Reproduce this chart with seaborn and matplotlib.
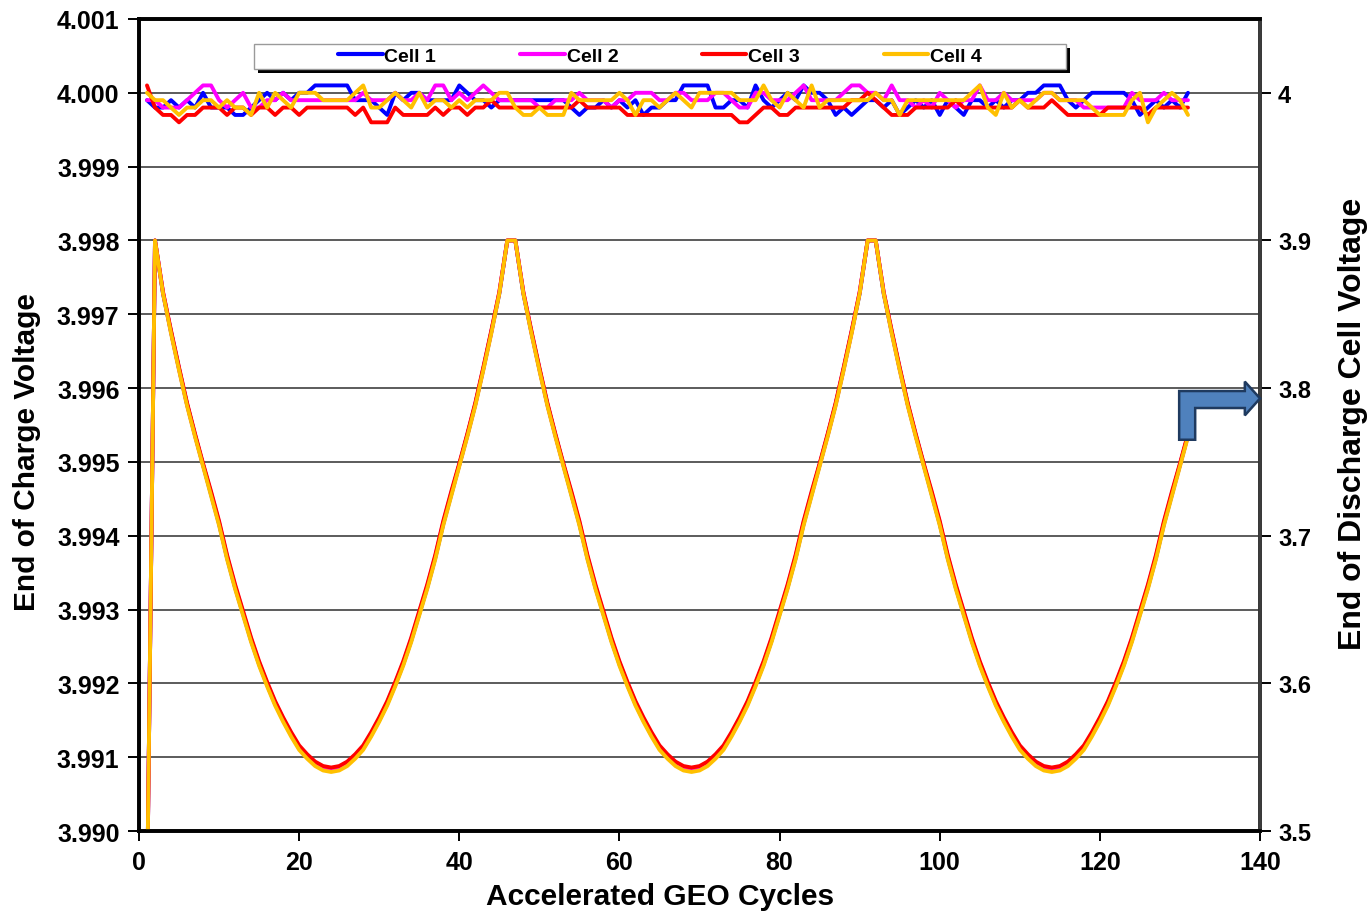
import numpy as np
import pandas as pd
import matplotlib
matplotlib.use("Agg")
import matplotlib.pyplot as plt
from matplotlib.lines import Line2D
from matplotlib.patches import Polygon, Rectangle
import seaborn as sns

# ---------------------------------------------------------------- data
cycles = list(range(1, 132))
cell_names = ["Cell 1", "Cell 2", "Cell 3", "Cell 4"]
cell_colors = ["#0000FF", "#FF00FF", "#FF0000", "#FFC000"]

# End-of-charge voltage per cycle (left axis)
cell1_eoc = [
    3.9999, 3.9998, 3.9998, 3.9999, 3.9998, 3.9999, 3.9998, 4.0000, 3.9998, 3.9998,
    3.9998, 3.9997, 3.9997, 3.9998, 3.9999, 4.0000, 3.9999, 4.0000, 3.9999, 4.0000,
    4.0000, 4.0001, 4.0001, 4.0001, 4.0001, 4.0001, 3.9999, 3.9999, 3.9999, 3.9998,
    3.9997, 4.0000, 3.9999, 4.0000, 4.0000, 3.9999, 3.9999, 3.9999, 3.9999, 4.0001,
    4.0000, 3.9999, 3.9999, 3.9998, 3.9999, 3.9999, 3.9999, 3.9999, 3.9999, 3.9999,
    3.9999, 3.9999, 3.9999, 3.9998, 3.9997, 3.9998, 3.9998, 3.9999, 3.9998, 3.9999,
    3.9998, 3.9999, 3.9997, 3.9998, 3.9998, 3.9999, 3.9999, 4.0001, 4.0001, 4.0001,
    4.0001, 3.9998, 3.9998, 3.9999, 3.9999, 3.9998, 4.0001, 3.9999, 3.9998, 3.9999,
    4.0000, 3.9999, 4.0001, 4.0000, 4.0000, 3.9999, 3.9997, 3.9998, 3.9997, 3.9998,
    3.9999, 3.9999, 3.9998, 3.9999, 3.9997, 3.9998, 3.9999, 3.9998, 3.9999, 3.9997,
    3.9999, 3.9998, 3.9997, 3.9999, 3.9999, 3.9998, 3.9999, 3.9998, 3.9999, 3.9999,
    4.0000, 4.0000, 4.0001, 4.0001, 4.0001, 3.9999, 3.9998, 3.9999, 4.0000, 4.0000,
    4.0000, 4.0000, 4.0000, 3.9999, 3.9997, 3.9998, 3.9999, 3.9998, 3.9999, 3.9998,
    4.0000,
]
cell2_eoc = [
    3.9999, 3.9999, 3.9998, 3.9998, 3.9998, 3.9999, 4.0000, 4.0001, 4.0001, 3.9999,
    3.9998, 3.9999, 4.0000, 3.9998, 3.9998, 3.9999, 3.9999, 4.0000, 3.9999, 3.9999,
    3.9999, 3.9999, 3.9999, 3.9999, 3.9999, 3.9999, 3.9999, 4.0000, 3.9999, 3.9999,
    3.9999, 4.0000, 3.9999, 3.9999, 4.0000, 3.9999, 4.0001, 4.0001, 3.9999, 4.0000,
    3.9999, 4.0000, 4.0001, 4.0000, 3.9999, 3.9999, 3.9999, 3.9999, 3.9999, 3.9998,
    3.9998, 3.9999, 3.9999, 3.9999, 4.0000, 3.9999, 3.9999, 3.9999, 3.9998, 3.9999,
    3.9999, 4.0000, 4.0000, 4.0000, 3.9999, 3.9999, 4.0000, 4.0000, 3.9999, 3.9999,
    3.9999, 4.0000, 4.0000, 3.9999, 3.9998, 3.9998, 4.0000, 4.0000, 3.9999, 3.9999,
    3.9999, 4.0000, 4.0001, 3.9999, 3.9999, 3.9999, 3.9999, 4.0000, 4.0001, 4.0001,
    4.0000, 4.0000, 3.9999, 4.0001, 3.9999, 3.9999, 3.9998, 3.9999, 3.9998, 4.0000,
    3.9999, 3.9998, 3.9999, 3.9999, 4.0001, 3.9999, 3.9999, 4.0000, 3.9999, 3.9999,
    3.9999, 3.9999, 4.0000, 4.0000, 3.9999, 3.9999, 3.9999, 3.9998, 3.9998, 3.9998,
    3.9998, 3.9998, 3.9998, 4.0000, 3.9999, 3.9999, 3.9999, 4.0000, 3.9999, 3.9999,
    3.9999,
]
cell3_eoc = [
    4.0001, 3.9998, 3.9997, 3.9997, 3.9996, 3.9997, 3.9997, 3.9998, 3.9998, 3.9998,
    3.9997, 3.9998, 3.9998, 3.9997, 3.9998, 3.9998, 3.9997, 3.9998, 3.9998, 3.9997,
    3.9998, 3.9998, 3.9998, 3.9998, 3.9998, 3.9998, 3.9997, 3.9998, 3.9996, 3.9996,
    3.9996, 3.9998, 3.9997, 3.9997, 3.9997, 3.9997, 3.9998, 3.9997, 3.9998, 3.9998,
    3.9997, 3.9998, 3.9998, 3.9999, 3.9998, 3.9998, 3.9998, 3.9998, 3.9998, 3.9998,
    3.9998, 3.9998, 3.9998, 3.9998, 3.9999, 3.9998, 3.9998, 3.9998, 3.9998, 3.9998,
    3.9997, 3.9997, 3.9997, 3.9997, 3.9997, 3.9997, 3.9997, 3.9997, 3.9997, 3.9997,
    3.9997, 3.9997, 3.9997, 3.9997, 3.9996, 3.9996, 3.9997, 3.9998, 3.9998, 3.9997,
    3.9997, 3.9998, 3.9998, 3.9998, 3.9998, 3.9998, 3.9998, 3.9998, 3.9999, 3.9999,
    4.0000, 3.9999, 3.9998, 3.9997, 3.9997, 3.9997, 3.9998, 3.9998, 3.9998, 3.9998,
    3.9998, 3.9999, 3.9998, 3.9998, 3.9998, 3.9998, 3.9998, 3.9998, 3.9998, 3.9999,
    3.9998, 3.9998, 3.9998, 3.9999, 3.9998, 3.9997, 3.9997, 3.9997, 3.9997, 3.9997,
    3.9998, 3.9998, 3.9998, 3.9998, 3.9998, 3.9997, 3.9998, 3.9998, 3.9998, 3.9998,
    3.9998,
]
cell4_eoc = [
    4.0000, 3.9999, 3.9999, 3.9998, 3.9997, 3.9998, 3.9998, 3.9999, 3.9999, 3.9998,
    3.9999, 3.9998, 3.9998, 3.9997, 4.0000, 3.9998, 4.0000, 3.9999, 3.9998, 4.0000,
    4.0000, 4.0000, 3.9999, 3.9999, 3.9999, 3.9999, 4.0000, 4.0001, 3.9998, 3.9998,
    3.9999, 4.0000, 3.9999, 3.9998, 4.0000, 3.9998, 3.9999, 3.9999, 3.9998, 3.9999,
    3.9998, 3.9999, 3.9999, 3.9999, 4.0000, 4.0000, 3.9998, 3.9997, 3.9997, 3.9998,
    3.9997, 3.9997, 3.9997, 4.0000, 3.9999, 3.9999, 3.9999, 3.9999, 3.9999, 4.0000,
    3.9999, 3.9997, 3.9999, 3.9999, 3.9998, 3.9999, 4.0000, 3.9999, 3.9998, 4.0000,
    4.0000, 4.0000, 4.0000, 4.0000, 3.9999, 3.9999, 3.9999, 4.0001, 3.9999, 3.9998,
    4.0000, 3.9999, 3.9998, 4.0001, 3.9998, 3.9999, 3.9999, 3.9999, 3.9999, 3.9999,
    3.9999, 4.0000, 3.9999, 3.9999, 3.9997, 3.9999, 3.9999, 3.9999, 3.9999, 3.9999,
    3.9999, 3.9999, 3.9999, 4.0000, 4.0001, 3.9998, 3.9997, 4.0000, 3.9998, 3.9999,
    3.9998, 3.9999, 4.0000, 4.0000, 3.9999, 3.9999, 3.9999, 3.9999, 3.9998, 3.9997,
    3.9997, 3.9997, 3.9997, 3.9999, 4.0000, 3.9996, 3.9998, 3.9999, 4.0000, 3.9999,
    3.9997,
]

# End-of-discharge voltage per cycle (right axis)
cell1_eod = [
    3.450,
    3.900, 3.864, 3.838, 3.813, 3.789, 3.768, 3.748, 3.728, 3.708, 3.685, 3.665, 3.647,
    3.629, 3.613, 3.599, 3.586, 3.575, 3.565, 3.556, 3.550, 3.545, 3.542, 3.541,
    3.542, 3.545, 3.550, 3.556, 3.565, 3.575, 3.586, 3.599, 3.613, 3.629, 3.647, 3.665,
    3.685, 3.708, 3.728, 3.748, 3.768, 3.789, 3.813, 3.838, 3.864, 3.900,
    3.900, 3.864, 3.838, 3.813, 3.789, 3.768, 3.748, 3.728, 3.708, 3.685, 3.665, 3.647,
    3.629, 3.613, 3.599, 3.586, 3.575, 3.565, 3.556, 3.550, 3.545, 3.542, 3.541,
    3.542, 3.545, 3.550, 3.556, 3.565, 3.575, 3.586, 3.599, 3.613, 3.629, 3.647, 3.665,
    3.685, 3.708, 3.728, 3.748, 3.768, 3.789, 3.813, 3.838, 3.864, 3.900,
    3.900, 3.864, 3.838, 3.813, 3.789, 3.768, 3.748, 3.728, 3.708, 3.685, 3.665, 3.647,
    3.629, 3.613, 3.599, 3.586, 3.575, 3.565, 3.556, 3.550, 3.545, 3.542, 3.541,
    3.542, 3.545, 3.550, 3.556, 3.565, 3.575, 3.586, 3.599, 3.613, 3.629, 3.647, 3.665,
    3.685, 3.708, 3.728, 3.748, 3.768,
]
cell2_eod = [
    3.450,
    3.900, 3.865, 3.838, 3.813, 3.789, 3.768, 3.748, 3.729, 3.709, 3.686, 3.666, 3.648,
    3.630, 3.614, 3.600, 3.587, 3.576, 3.566, 3.557, 3.551, 3.546, 3.543, 3.542,
    3.543, 3.546, 3.551, 3.557, 3.566, 3.576, 3.587, 3.600, 3.614, 3.630, 3.648, 3.666,
    3.686, 3.709, 3.729, 3.748, 3.768, 3.789, 3.813, 3.838, 3.865, 3.900,
    3.900, 3.865, 3.838, 3.813, 3.789, 3.768, 3.748, 3.729, 3.709, 3.686, 3.666, 3.648,
    3.630, 3.614, 3.600, 3.587, 3.576, 3.566, 3.557, 3.551, 3.546, 3.543, 3.542,
    3.543, 3.546, 3.551, 3.557, 3.566, 3.576, 3.587, 3.600, 3.614, 3.630, 3.648, 3.666,
    3.686, 3.709, 3.729, 3.748, 3.768, 3.789, 3.813, 3.838, 3.865, 3.900,
    3.900, 3.865, 3.838, 3.813, 3.789, 3.768, 3.748, 3.729, 3.709, 3.686, 3.666, 3.648,
    3.630, 3.614, 3.600, 3.587, 3.576, 3.566, 3.557, 3.551, 3.546, 3.543, 3.542,
    3.543, 3.546, 3.551, 3.557, 3.566, 3.576, 3.587, 3.600, 3.614, 3.630, 3.648, 3.666,
    3.686, 3.709, 3.729, 3.748, 3.768,
]
cell3_eod = [
    3.450,
    3.900, 3.865, 3.839, 3.814, 3.790, 3.769, 3.749, 3.730, 3.710, 3.687, 3.667, 3.649,
    3.631, 3.615, 3.601, 3.588, 3.577, 3.567, 3.558, 3.552, 3.547, 3.544, 3.543,
    3.544, 3.547, 3.552, 3.558, 3.567, 3.577, 3.588, 3.601, 3.615, 3.631, 3.649, 3.667,
    3.687, 3.710, 3.730, 3.749, 3.769, 3.790, 3.814, 3.839, 3.865, 3.900,
    3.900, 3.865, 3.839, 3.814, 3.790, 3.769, 3.749, 3.730, 3.710, 3.687, 3.667, 3.649,
    3.631, 3.615, 3.601, 3.588, 3.577, 3.567, 3.558, 3.552, 3.547, 3.544, 3.543,
    3.544, 3.547, 3.552, 3.558, 3.567, 3.577, 3.588, 3.601, 3.615, 3.631, 3.649, 3.667,
    3.687, 3.710, 3.730, 3.749, 3.769, 3.790, 3.814, 3.839, 3.865, 3.900,
    3.900, 3.865, 3.839, 3.814, 3.790, 3.769, 3.749, 3.730, 3.710, 3.687, 3.667, 3.649,
    3.631, 3.615, 3.601, 3.588, 3.577, 3.567, 3.558, 3.552, 3.547, 3.544, 3.543,
    3.544, 3.547, 3.552, 3.558, 3.567, 3.577, 3.588, 3.601, 3.615, 3.631, 3.649, 3.667,
    3.687, 3.710, 3.730, 3.749, 3.769,
]
cell4_eod = [
    3.450,
    3.900, 3.864, 3.837, 3.812, 3.788, 3.767, 3.747, 3.727, 3.707, 3.684, 3.664, 3.646,
    3.628, 3.612, 3.598, 3.585, 3.574, 3.564, 3.555, 3.549, 3.544, 3.541, 3.540,
    3.541, 3.544, 3.549, 3.555, 3.564, 3.574, 3.585, 3.598, 3.612, 3.628, 3.646, 3.664,
    3.684, 3.707, 3.727, 3.747, 3.767, 3.788, 3.812, 3.837, 3.864, 3.900,
    3.900, 3.864, 3.837, 3.812, 3.788, 3.767, 3.747, 3.727, 3.707, 3.684, 3.664, 3.646,
    3.628, 3.612, 3.598, 3.585, 3.574, 3.564, 3.555, 3.549, 3.544, 3.541, 3.540,
    3.541, 3.544, 3.549, 3.555, 3.564, 3.574, 3.585, 3.598, 3.612, 3.628, 3.646, 3.664,
    3.684, 3.707, 3.727, 3.747, 3.767, 3.788, 3.812, 3.837, 3.864, 3.900,
    3.900, 3.864, 3.837, 3.812, 3.788, 3.767, 3.747, 3.727, 3.707, 3.684, 3.664, 3.646,
    3.628, 3.612, 3.598, 3.585, 3.574, 3.564, 3.555, 3.549, 3.544, 3.541, 3.540,
    3.541, 3.544, 3.549, 3.555, 3.564, 3.574, 3.585, 3.598, 3.612, 3.628, 3.646, 3.664,
    3.684, 3.707, 3.727, 3.747, 3.767,
]

eoc_ticks = [3.990, 3.991, 3.992, 3.993, 3.994, 3.995, 3.996, 3.997, 3.998, 3.999, 4.000, 4.001]
eoc_tick_labels = ["3.990", "3.991", "3.992", "3.993", "3.994", "3.995",
                   "3.996", "3.997", "3.998", "3.999", "4.000", "4.001"]
eod_ticks = [3.5, 3.6, 3.7, 3.8, 3.9, 4.0]
eod_tick_labels = ["3.5", "3.6", "3.7", "3.8", "3.9", "4"]
cycle_ticks = [0, 20, 40, 60, 80, 100, 120, 140]

# ---------------------------------------------------------------- frames
eoc_series = [cell1_eoc, cell2_eoc, cell3_eoc, cell4_eoc]
eod_series = [cell1_eod, cell2_eod, cell3_eod, cell4_eod]
eoc_df = pd.concat(
    [pd.DataFrame({"cycle": cycles, "voltage": v, "cell": n})
     for n, v in zip(cell_names, eoc_series)], ignore_index=True)
eod_df = pd.concat(
    [pd.DataFrame({"cycle": cycles, "voltage": v, "cell": n})
     for n, v in zip(cell_names, eod_series)], ignore_index=True)

# ---------------------------------------------------------------- style
sns.set_theme(style="white", rc={
    "text.color": "black", "axes.labelcolor": "black",
    "xtick.color": "black", "ytick.color": "black",
})
plt.rcParams["font.family"] = ["Liberation Sans", "DejaVu Sans"]
plt.rcParams["font.weight"] = "bold"
plt.rcParams["axes.labelweight"] = "bold"

fig = plt.figure(figsize=(13.72, 9.12), dpi=100)
ax = fig.add_axes([0.1013, 0.0877, 0.8171, 0.8904])
ax2 = ax.twinx()

palette = dict(zip(cell_names, cell_colors))
sns.lineplot(data=eoc_df, x="cycle", y="voltage", hue="cell", palette=palette,
             estimator=None, sort=False, linewidth=2.8, legend=False, ax=ax)
sns.lineplot(data=eod_df, x="cycle", y="voltage", hue="cell", palette=palette,
             estimator=None, sort=False, linewidth=2.8, legend=False, ax=ax2)

# left axis: end of charge
ax.set_xlim(0, 140)
ax.set_ylim(3.990, 4.001)
ax.set_xticks(cycle_ticks)
ax.set_xticklabels([str(t) for t in cycle_ticks])
ax.set_yticks(eoc_ticks)
ax.set_yticklabels(eoc_tick_labels)
ax.yaxis.grid(True, color="#404040", linewidth=1.2)
ax.xaxis.grid(False)
ax.tick_params(axis="y", left=True, direction="out", length=8, width=1.4,
               labelsize=18, pad=6)
ax.tick_params(axis="x", bottom=True, direction="out", length=7, width=1.4,
               labelsize=18, pad=7)
ax.set_xlabel("Accelerated GEO Cycles", fontsize=21.5, fontweight="bold")
ax.xaxis.set_label_coords(0.465, -0.063)
ax.set_ylabel("End of Charge Voltage", fontsize=21.5, fontweight="bold")
ax.yaxis.set_label_coords(-0.087, 0.468)

# right axis: end of discharge
ax2.set_ylim(3.5, 4.05)
ax2.set_yticks(eod_ticks)
ax2.set_yticklabels(eod_tick_labels)
ax2.grid(False)
ax2.tick_params(axis="y", right=True, direction="out", length=8, width=1.4,
                labelsize=17, pad=5)
ax2.set_ylabel("End of Discharge Cell Voltage", fontsize=23, fontweight="bold")
ax2.yaxis.set_label_coords(1.0695, 0.502)
ax2.set_xlabel("")

for a in (ax, ax2):
    for side, sp in a.spines.items():
        sp.set_visible(True)
        sp.set_linewidth(2.6)
        sp.set_color("black")
ax2.spines["right"].set_color("#3c3c3c")

# legend box with a hard drop shadow
box_x, box_y, box_w, box_h = 0.1026, 0.9384, 0.7243, 0.0308
ax.add_patch(Rectangle((box_x + 0.0032, box_y - 0.0045), box_w, box_h,
                       transform=ax.transAxes, facecolor="black",
                       edgecolor="none", zorder=5, clip_on=False))
ax.add_patch(Rectangle((box_x, box_y), box_w, box_h, transform=ax.transAxes,
                       facecolor="white", edgecolor="#9a9a9a", linewidth=1.0,
                       zorder=6, clip_on=False))
handles = [Line2D([0], [0], color=c, linewidth=3.0) for c in cell_colors]
leg = ax.legend(handles, cell_names, loc="center",
                bbox_to_anchor=(box_x + box_w / 2, box_y + box_h / 2),
                ncol=4, frameon=False, fontsize=14, handlelength=2.3,
                handletextpad=0.1, columnspacing=4.3, borderpad=0.0)
leg.set_zorder(7)
for t in leg.get_texts():
    t.set_fontweight("bold")

# bent arrow pointing at the right-hand axis
arrow_pts = [(129.9, 3.765), (131.9, 3.765), (131.9, 3.7865), (138.1, 3.7865),
             (138.1, 3.7815), (140.0, 3.793), (138.1, 3.8044), (138.1, 3.798),
             (129.9, 3.798)]
ax2.add_patch(Polygon(arrow_pts, closed=True, facecolor="#4F81BD",
                      edgecolor="#1F3A5F", linewidth=1.8, zorder=8, clip_on=False))

fig.savefig("out.png", dpi=100)
